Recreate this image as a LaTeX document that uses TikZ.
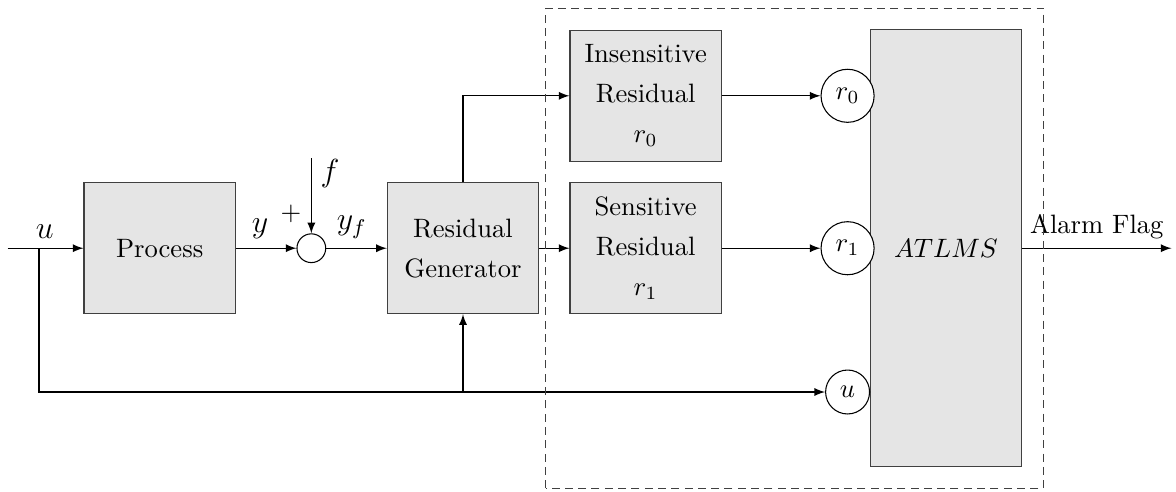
\documentclass[tikz,border=0pt]{standalone}
\usepackage{amsmath,amssymb}
\usepackage{tikz}
\usetikzlibrary{positioning}

\begin{document}
\begin{tikzpicture}[
    node distance=0.8cm,
    block/.style={rectangle, draw=black!75, fill=black!10, minimum width=2cm, minimum height=1.73cm, align=center, font=\linespread{1.25}\selectfont},
    sumnode/.style={circle, draw, minimum size=0.38cm, inner sep=0pt},
    port/.style={circle, draw, fill=white},
    sig/.style={font=\large},
    arrow/.style={-latex}
]
    \useasboundingbox (0,0) rectangle (15.54,6.49);

    % main signal path
    \coordinate (in) at (0.1,3.21);
    \node[block] (process) at (2.11,3.21) {Process};
    \node[sumnode, right=0.8cm of process] (sum) {};
    \node[block, right=0.8cm of sum] (resgen) {Residual\\Generator};
    \node[block, right=0.4cm of resgen] (sens) {Sensitive\\Residual\\$r_1$};
    \node[block, above=0.27cm of sens] (insens) {Insensitive\\Residual\\$r_0$};
    \node[block, minimum height=5.77cm] (atlms) at (12.5,3.21) {$ATLMS$};

    % inputs of the decision block
    \coordinate (portx) at (11.2,0);
    \coordinate (fb) at (0.515,1.31);
    \node[port] (pr0) at (portx |- insens) {$r_0$};
    \node[port] (pr1) at (portx |- sens) {$r_1$};
    \node[port] (pu) at (portx |- fb) {$u$};

    \coordinate (fin) at ([yshift=1.19cm]sum);
    \coordinate (split) at (fb |- in);
    \coordinate (tap) at (resgen |- pu);
    \coordinate (out) at (15.48,3.21);
    \node (plus) at ([xshift=-0.27cm,yshift=0.46cm]sum) {$+$};

    \draw[arrow] (in) -- node[sig, above, pos=0.49] {$u$} (process);
    \draw[arrow] (process) -- node[sig, above, pos=0.4] {$y$} (sum);
    \draw[arrow] (fin) -- node[sig, right, pos=0.2] {$f$} (sum);
    \draw[arrow] (sum) -- node[sig, above, pos=0.42] {$y_f$} (resgen);
    \draw[arrow] (resgen.north) |- (insens);
    \draw[arrow] (resgen) -- (sens);
    \draw[arrow] (insens) -- (pr0);
    \draw[arrow] (sens) -- (pr1);
    \draw[arrow] (split) |- (pu);
    \draw[arrow] (tap) -- (resgen);
    \draw[arrow] (atlms) -- node[above] {Alarm Flag} (out);

    % decision unit frame
    \draw[black!75, dash pattern=on 3pt off 2pt] (7.21,0.04) rectangle (13.79,6.38);
\end{tikzpicture}
\end{document}
